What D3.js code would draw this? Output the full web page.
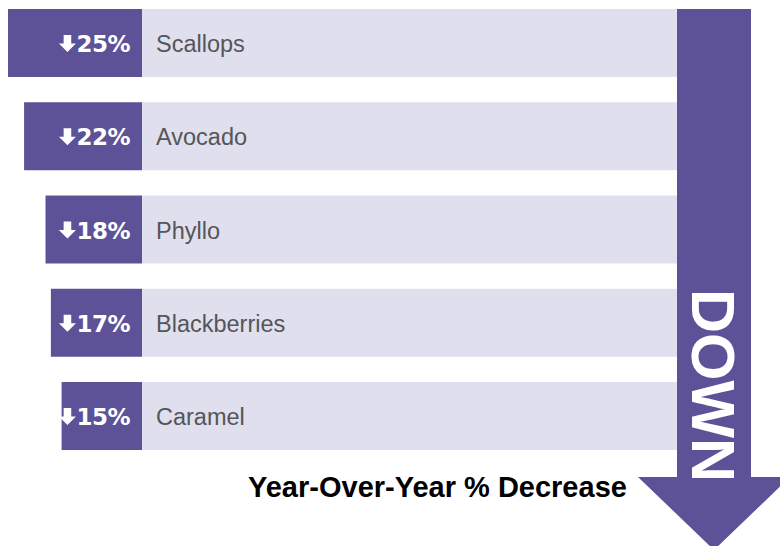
<!DOCTYPE html>
<html>
<head>
<meta charset="utf-8">
<script src="https://cdn.jsdelivr.net/npm/d3@7"></script>
<style>
  body { margin: 0; background: #fff; }
</style>
</head>
<body>
<div id="chart"></div>
<script>
// values
const categories = ["Scallops", "Avocado", "Phyllo", "Blackberries", "Caramel"];
const decreases = [25, 22, 18, 17, 15];
const titleText = "Year-Over-Year % Decrease";
const arrowWord = "DOWN";

const dark = "rgb(93,82,151)";
const light = "rgb(224,223,237)";

var svg = d3
  .select("#chart")
  .append("svg")
  .attr("width", 780)
  .attr("height", 546)
  .style("background-color", "white");

// scales
const y = d3.scaleBand().domain(categories).range([9, 450]).paddingInner(0.271).paddingOuter(0);
const x = d3.scaleLinear().domain([0, 25]).range([142, 8]);

const shaftLeft = 677;
const shaftRight = 751;

// light background bars
svg
  .selectAll(".bg")
  .data(categories)
  .enter()
  .append("rect")
  .attr("x", x(0))
  .attr("y", (d) => y(d))
  .attr("width", shaftLeft - x(0))
  .attr("height", y.bandwidth())
  .attr("fill", light);

// dark value bars
svg
  .selectAll(".val")
  .data(decreases)
  .enter()
  .append("rect")
  .attr("x", (d) => x(d))
  .attr("y", (d, i) => y(categories[i]))
  .attr("width", (d) => x(0) - x(d))
  .attr("height", y.bandwidth())
  .attr("fill", dark);

// percent labels
const pct = svg
  .selectAll(".pct")
  .data(decreases)
  .enter()
  .append("text")
  .attr("x", 130)
  .attr("y", (d, i) => y(categories[i]) + y.bandwidth() / 2 + 9)
  .attr("text-anchor", "end")
  .attr("fill", "white")
  .style("font-family", "DejaVu Sans")
  .style("font-weight", "bold")
  .style("font-size", "23px")
  .style("letter-spacing", "-0.5px")
  .text((d) => d + "%");

// little down arrows before the percent
pct.each(function (d, i) {
  const w = this.getComputedTextLength();
  const right = 130 - w - 1;
  const base = y(categories[i]) + y.bandwidth() / 2 + 9;
  const cx = right - 8;
  svg
    .append("path")
    .attr(
      "d",
      `M${cx - 3.8},${base - 17} L${cx + 3.8},${base - 17} L${cx + 3.8},${base - 8.5} ` +
        `L${cx + 8.5},${base - 8.5} L${cx},${base} L${cx - 8.5},${base - 8.5} L${cx - 3.8},${base - 8.5} Z`
    )
    .attr("fill", "white");
});

// category labels
svg
  .selectAll(".cat")
  .data(categories)
  .enter()
  .append("text")
  .attr("x", 156)
  .attr("y", (d) => y(d) + y.bandwidth() / 2 + 9)
  .attr("fill", "rgb(85,85,90)")
  .style("font-family", "Liberation Sans, Arial")
  .style("font-size", "23.5px")
  .text((d) => d);

// big arrow
svg
  .append("path")
  .attr(
    "d",
    `M${shaftLeft},9 L${shaftRight},9 L${shaftRight},477 L790,477 L714,550 L638,477 L${shaftLeft},477 Z`
  )
  .attr("fill", dark);

svg
  .append("text")
  .attr("transform", "translate(692,289) rotate(90)")
  .attr("fill", "white")
  .style("font-family", "Liberation Sans, Arial")
  .style("font-weight", "bold")
  .style("font-size", "61px")
  .text(arrowWord);

// title
svg
  .append("text")
  .attr("x", 248)
  .attr("y", 497)
  .attr("fill", "black")
  .style("font-family", "Liberation Sans, Arial")
  .style("font-weight", "bold")
  .style("font-size", "29px")
  .text(titleText);
</script>
</body>
</html>
